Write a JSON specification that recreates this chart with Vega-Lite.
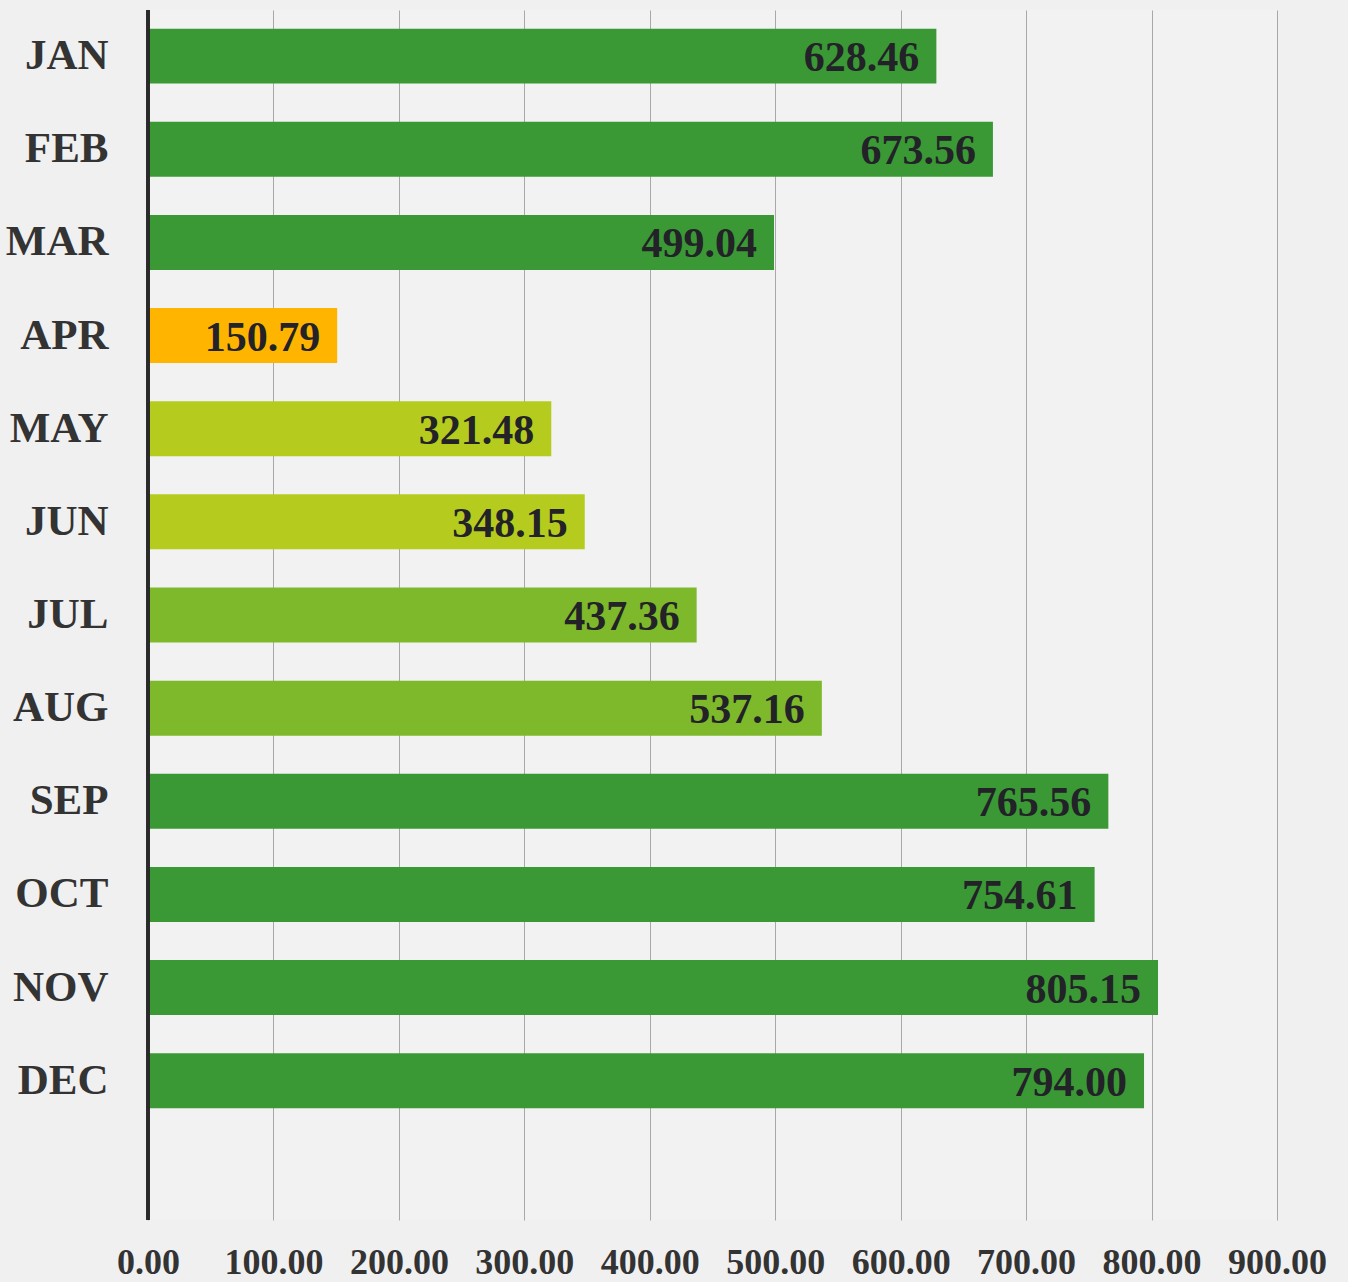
{
  "$schema": "https://vega.github.io/schema/vega-lite/v6.json",
  "width": 1129,
  "height": 1210,
  "autosize": {"type": "none"},
  "padding": {"left": 148, "top": 10, "right": 71, "bottom": 62},
  "background": "#f0f0f0",
  "config": {
    "view": {"stroke": null, "fill": "#f2f2f2"},
    "font": "Liberation Serif"
  },
  "data": {
    "values": [
      {"month": "JAN", "value": 628.46, "level": "high"},
      {"month": "FEB", "value": 673.56, "level": "high"},
      {"month": "MAR", "value": 499.04, "level": "high"},
      {"month": "APR", "value": 150.79, "level": "low"},
      {"month": "MAY", "value": 321.48, "level": "midlow"},
      {"month": "JUN", "value": 348.15, "level": "midlow"},
      {"month": "JUL", "value": 437.36, "level": "mid"},
      {"month": "AUG", "value": 537.16, "level": "mid"},
      {"month": "SEP", "value": 765.56, "level": "high"},
      {"month": "OCT", "value": 754.61, "level": "high"},
      {"month": "NOV", "value": 805.15, "level": "high"},
      {"month": "DEC", "value": 794.0, "level": "high"}
    ]
  },
  "encoding": {
    "y": {
      "field": "month",
      "type": "nominal",
      "sort": null,
      "scale": {
        "domain": ["JAN", "FEB", "MAR", "APR", "MAY", "JUN", "JUL", "AUG", "SEP", "OCT", "NOV", "DEC", " "],
        "paddingInner": 0.41,
        "paddingOuter": 0.2
      },
      "axis": {
        "title": null,
        "ticks": false,
        "domain": false,
        "grid": false,
        "labelFont": "Liberation Serif",
        "labelFontWeight": "bold",
        "labelFontSize": 43,
        "labelColor": "#333333",
        "labelPadding": 40,
        "labelAlign": "right",
        "labelBaseline": "middle"
      }
    },
    "x": {
      "field": "value",
      "type": "quantitative",
      "scale": {"domain": [0, 900], "nice": false},
      "axis": {
        "title": null,
        "values": [0, 100, 200, 300, 400, 500, 600, 700, 800, 900],
        "format": ".2f",
        "ticks": false,
        "domain": false,
        "grid": true,
        "gridColor": "#a8a8a8",
        "gridWidth": 1,
        "labelFont": "Liberation Serif",
        "labelFontWeight": "bold",
        "labelFontSize": 36,
        "labelColor": "#333333",
        "labelPadding": 25,
        "labelFlush": false
      }
    }
  },
  "layer": [
    {
      "mark": {"type": "bar"},
      "encoding": {
        "color": {
          "field": "level",
          "type": "nominal",
          "legend": null,
          "scale": {
            "domain": ["high", "low", "midlow", "mid"],
            "range": ["#3b9935", "#ffb400", "#b5cc1e", "#7db92a"]
          }
        }
      }
    },
    {
      "mark": {
        "type": "text",
        "align": "right",
        "baseline": "middle",
        "dx": -17,
        "dy": 2,
        "font": "Liberation Serif",
        "fontWeight": "bold",
        "fontSize": 42,
        "color": "#222228"
      },
      "encoding": {
        "text": {"field": "value", "type": "quantitative", "format": ".2f"}
      }
    },
    {
      "mark": {"type": "rule", "color": "#2a2a2a", "strokeWidth": 2.5},
      "encoding": {
        "x": {"datum": 0, "type": "quantitative"},
        "y": {"value": 0},
        "y2": {"value": 1210}
      }
    }
  ]
}
